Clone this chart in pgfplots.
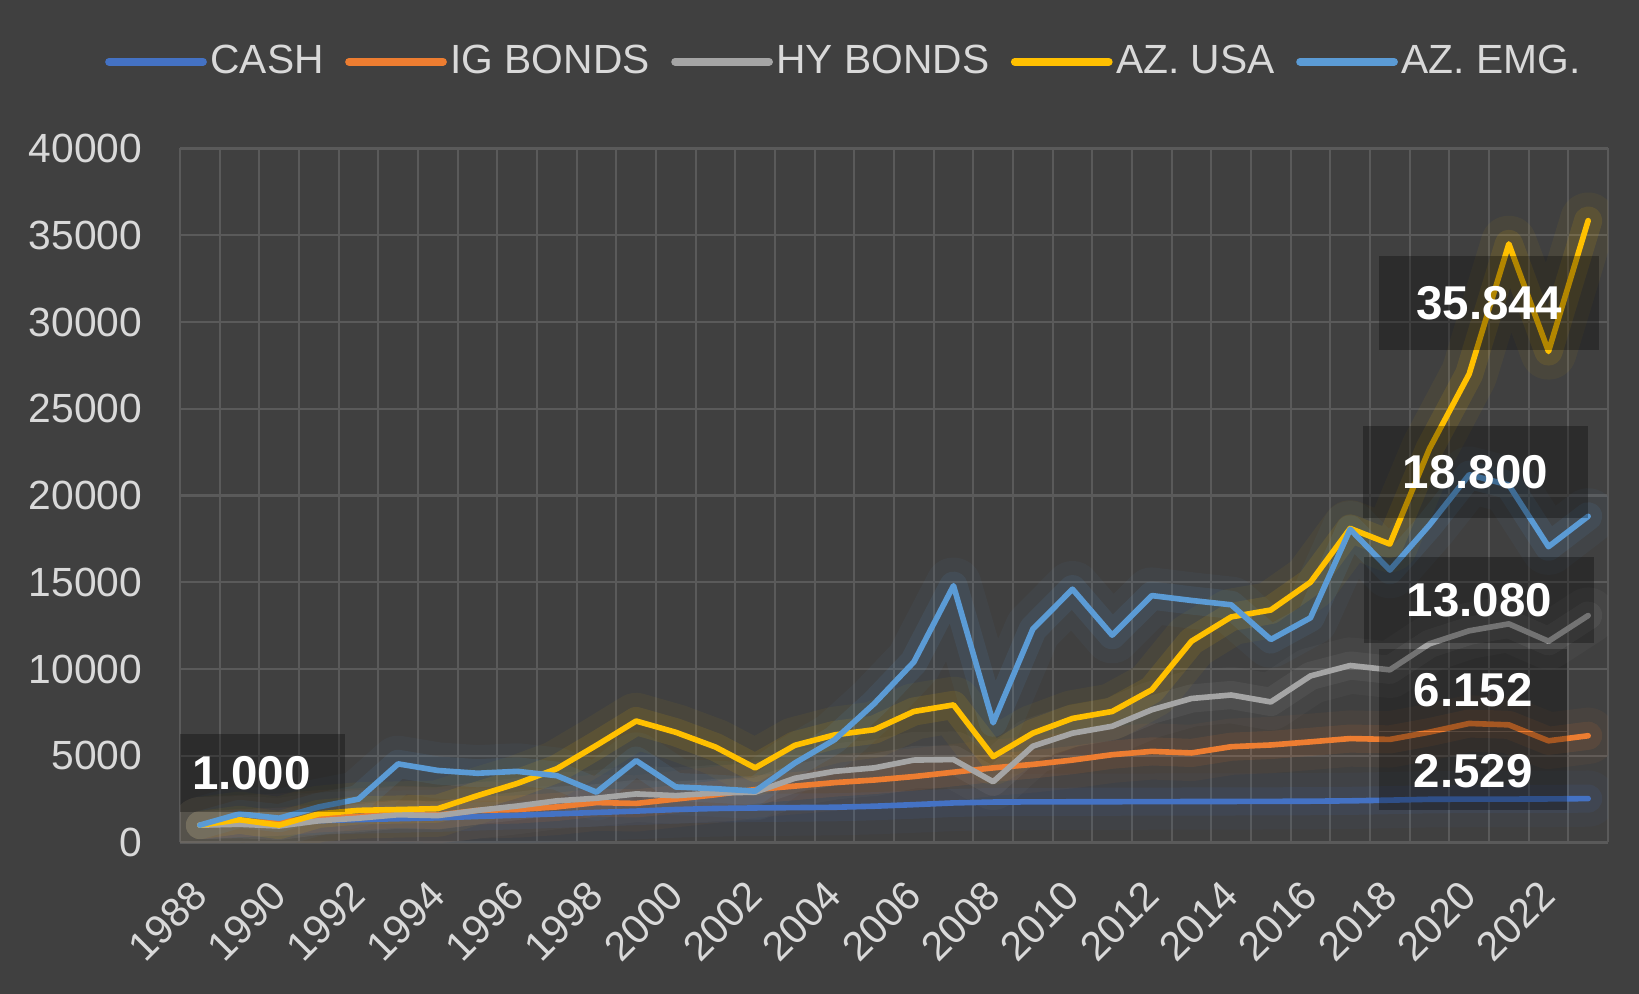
\documentclass[border=0pt]{standalone}
\usepackage{fontspec}
\setmainfont{Liberation Sans}
\usepackage{pgfplots}
\usepackage{pgfplotstable}
\pgfplotsset{compat=1.18}
\definecolor{bg}{HTML}{404040}
\definecolor{gridc}{HTML}{5A5A5A}
\definecolor{txt}{HTML}{D9D9D9}
\definecolor{cCash}{HTML}{4472C4}
\definecolor{cIG}{HTML}{ED7D31}
\definecolor{cHY}{HTML}{A5A5A5}
\definecolor{cUSA}{HTML}{FFC000}
\definecolor{cEMG}{HTML}{5B9BD5}

\pgfplotstableread{
year cash ig hy usa emg
1988 1000 1000 1000 1000 1000
1989 1090 1120 1050 1310 1650
1990 1180 1200 950 1000 1400
1991 1260 1390 1250 1650 2050
1992 1320 1500 1400 1850 2500
1993 1370 1650 1600 1900 4530
1994 1420 1580 1550 1950 4150
1995 1500 1850 1850 2700 3990
1996 1570 1900 2100 3400 4100
1997 1650 2050 2400 4250 3850
1998 1730 2300 2550 5600 2900
1999 1810 2250 2800 7000 4720
2000 1900 2500 2700 6350 3200
2001 1960 2750 2850 5500 3100
2002 1990 3050 2900 4300 2960
2003 2010 3250 3700 5600 4580
2004 2030 3450 4100 6200 5920
2005 2090 3600 4300 6500 8000
2006 2180 3800 4750 7550 10400
2007 2280 4050 4780 7930 14800
2008 2330 4300 3500 4950 6900
2009 2340 4500 5550 6300 12300
2010 2345 4750 6300 7150 14600
2011 2350 5060 6700 7550 11950
2012 2355 5250 7650 8800 14230
2013 2360 5160 8300 11600 13950
2014 2365 5520 8500 13000 13700
2015 2370 5620 8100 13400 11700
2016 2380 5800 9600 15000 12950
2017 2400 5990 10200 18100 18050
2018 2440 5940 9950 17200 15700
2019 2490 6360 11450 22700 18300
2020 2500 6860 12200 27000 21200
2021 2500 6780 12600 34500 20600
2022 2510 5860 11600 28300 17050
2023 2529 6152 13080 35844 18800
}\data

\pgfplotsset{
  glowA/.style={forget plot, line width=16pt, opacity=0.05, line join=round, line cap=round},
  glowB/.style={forget plot, line width=8pt, opacity=0.10, line join=round, line cap=round},
  main/.style={line width=1.6pt, line join=round, line cap=round},
}
\tikzset{lbl/.style={fill=black, fill opacity=0.3, text opacity=1, text=white,
  font=\bfseries\fontsize{13.5}{14}\selectfont, inner sep=0pt}}

\begin{document}
\begin{tikzpicture}
\fill[bg] (0,0) rectangle (163.9mm,99.4mm);
\begin{axis}[
  at={(18mm,15.15mm)}, anchor=south west,
  width=142.8mm, height=69.4mm, scale only axis,
  xmin=1987.5, xmax=2023.5, ymin=0, ymax=40000,
  xtick={1988,1990,...,2022},
  minor xtick={1987.5,1988.5,...,2023.5},
  ytick={0,5000,...,40000},
  xmajorgrids=false, xminorgrids=true, ymajorgrids=true,
  grid style={gridc, line width=0.6pt},
  minor grid style={gridc, line width=0.6pt},
  axis line style={draw=none},
  major tick length=0pt, minor tick length=0pt,
  tick label style={font=\fontsize{11.6}{12}\selectfont, text=txt},
  /pgf/number format/1000 sep={},
  /pgf/number format/assume math mode=true,
  scaled y ticks=false,
  xticklabel style={yshift=-4.6mm, rotate=45, anchor=east, inner sep=0pt},
  yticklabel style={anchor=east, inner sep=0pt, xshift=-3.7mm},
  legend columns=5,
  legend style={draw=none, fill=none, inner sep=0pt, text=txt,
    font=\fontsize{11.6}{12}\selectfont,
    at={(axis description cs:-0.0529,1.125)}, anchor=west,
    nodes={inner xsep=0.35mm, inner ysep=0pt},
    /tikz/every even column/.append style={column sep=1.8mm}},
  legend image code/.code={\draw[#1, line width=2.2pt, line cap=round] (0mm,0mm) -- (9.4mm,0mm);},
]
\addplot[glowA, cCash] table[x=year,y=cash] {\data};
\addplot[glowA, cIG] table[x=year,y=ig] {\data};
\addplot[glowA, cHY] table[x=year,y=hy] {\data};
\addplot[glowA, cUSA] table[x=year,y=usa] {\data};
\addplot[glowA, cEMG] table[x=year,y=emg] {\data};
\addplot[glowB, cCash] table[x=year,y=cash] {\data};
\addplot[glowB, cIG] table[x=year,y=ig] {\data};
\addplot[glowB, cHY] table[x=year,y=hy] {\data};
\addplot[glowB, cUSA] table[x=year,y=usa] {\data};
\addplot[glowB, cEMG] table[x=year,y=emg] {\data};
\addplot[main, cCash] table[x=year,y=cash] {\data};
\addplot[main, cIG] table[x=year,y=ig] {\data};
\addplot[main, cHY] table[x=year,y=hy] {\data};
\addplot[main, cUSA] table[x=year,y=usa] {\data};
\addplot[main, cEMG] table[x=year,y=emg] {\data};
\legend{CASH, IG BONDS, HY BONDS, AZ. USA, AZ. EMG.}
\node[lbl, minimum width=22mm, minimum height=9.4mm] at (axis cs:2020.5,31084) {35.844};
\node[lbl, minimum width=22.5mm, minimum height=9.2mm] at (axis cs:2020.16,21325) {18.800};
\node[lbl, minimum width=23mm, minimum height=8.6mm] at (axis cs:2020.26,13976) {13.080};
\node[lbl, minimum width=18.8mm, minimum height=8.2mm] at (axis cs:2020.1,8795) {6.152};
\node[lbl, minimum width=18.8mm, minimum height=7.8mm] at (axis cs:2020.1,4096) {2.529};
\node[lbl, minimum width=18.8mm, minimum height=7.8mm] at (axis cs:1989.3,3976) {1.000};
\end{axis}
\pgfresetboundingbox
\useasboundingbox (0,0) rectangle (163.9mm,99.4mm);
\end{tikzpicture}
\end{document}
